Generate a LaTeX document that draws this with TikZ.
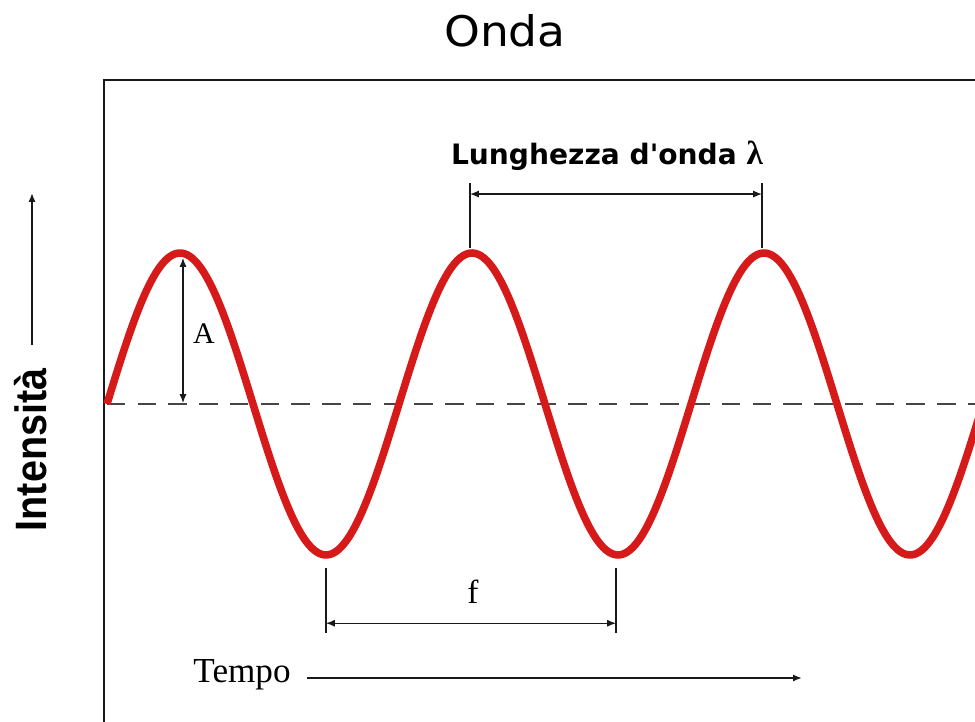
\documentclass[tikz,border=0pt]{standalone}
\usepackage{fontspec}
\setmainfont{Liberation Serif}
\setsansfont{Liberation Sans}
\newfontfamily\dejasans{DejaVu Sans}
\usepackage{tikz}
\usetikzlibrary{arrows.meta, positioning, calc}
\definecolor{ondaRed}{RGB}{214,26,26}
\definecolor{ondaInk}{RGB}{25,25,25}
\definecolor{ondaDash}{RGB}{70,70,70}

\begin{document}
\begin{tikzpicture}[x=0.02cm, y=-0.02cm,
  waveLine/.style={draw=ondaRed, line width=4.3pt, line join=round},
  dimLine/.style={draw=ondaInk, line width=0.7pt, {Latex[length=5pt,width=4pt]}-{Latex[length=5pt,width=4pt]}},
  dimTick/.style={draw=ondaInk, line width=0.7pt},
  axisArrow/.style={draw=ondaInk, line width=1pt, -{Latex[length=5pt,width=4pt]}}]
\useasboundingbox (0,0) rectangle (975,722);
\clip (0,0) rectangle (975,722);

% Title
\node[font=\dejasans\fontsize{24}{27}\selectfont] (title) at (505,31) {\scalebox{1.08}[1]{Onda}};

% Frame (runs off the right and bottom edges)
\draw[ondaInk, line width=1.5pt] (104,760) -- (104,80) -- (1000,80);

% Zero line and wave
\coordinate (zeroL) at (107,404);
\coordinate (zeroR) at (990,404);
\draw[ondaDash, line width=0.9pt, dash pattern=on 10.5pt off 7pt] (zeroL) -- (zeroR);
\draw[waveLine] plot[domain=107:995, samples=300, smooth]
  (\x, {404-151*sin((\x-107)/292*360)});

% Amplitude
\coordinate (aTop) at (183,258);
\coordinate (aBot) at (183,403);
\draw[dimLine] (aTop) -- (aBot);
\node[font=\fontsize{17}{19}\selectfont] (ampA) at (204,334) {A};

% Wavelength
\coordinate (lamL) at (470,248);
\coordinate (lamR) at (762,248);
\coordinate (lamLt) at (470,183);
\coordinate (lamRt) at (762,183);
\draw[dimTick] (lamL) -- (lamLt);
\draw[dimTick] (lamR) -- (lamRt);
\draw[dimLine] ($(lamL)!0.83!(lamLt)$) -- ($(lamR)!0.83!(lamRt)$);
\node[font=\dejasans\bfseries\fontsize{16}{18}\selectfont] (lamText) at (607,156)
  {Lunghezza d'onda \normalfont\bfseries\fontsize{19}{21}\selectfont λ};

% Period
\coordinate (fL) at (326,568);
\coordinate (fR) at (616,568);
\coordinate (fLb) at (326,633);
\coordinate (fRb) at (616,633);
\draw[dimTick] (fL) -- (fLb);
\draw[dimTick] (fR) -- (fRb);
\draw[dimLine] ($(fL)!0.85!(fLb)$) -- ($(fR)!0.85!(fRb)$);
\node[font=\fontsize{19}{21}\selectfont] (fText) at (473,592) {f};

% Time axis
\node[font=\fontsize{20}{22}\selectfont, inner sep=2pt] (tempo) at (242,675) {Tempo};
\coordinate (tempoStart) at (307,678);
\coordinate (tempoEnd) at (802,678);
\draw[axisArrow] (tempoStart) -- (tempoEnd);

% Intensity axis
\node[font=\sffamily\bfseries\fontsize{25}{28}\selectfont, rotate=90] (intens) at (31,450)
  {\scalebox{0.9}[1]{Intensità}};
\coordinate (intBot) at (32,345);
\coordinate (intTop) at (32,193);
\draw[axisArrow] (intBot) -- (intTop);

\end{tikzpicture}
\end{document}
